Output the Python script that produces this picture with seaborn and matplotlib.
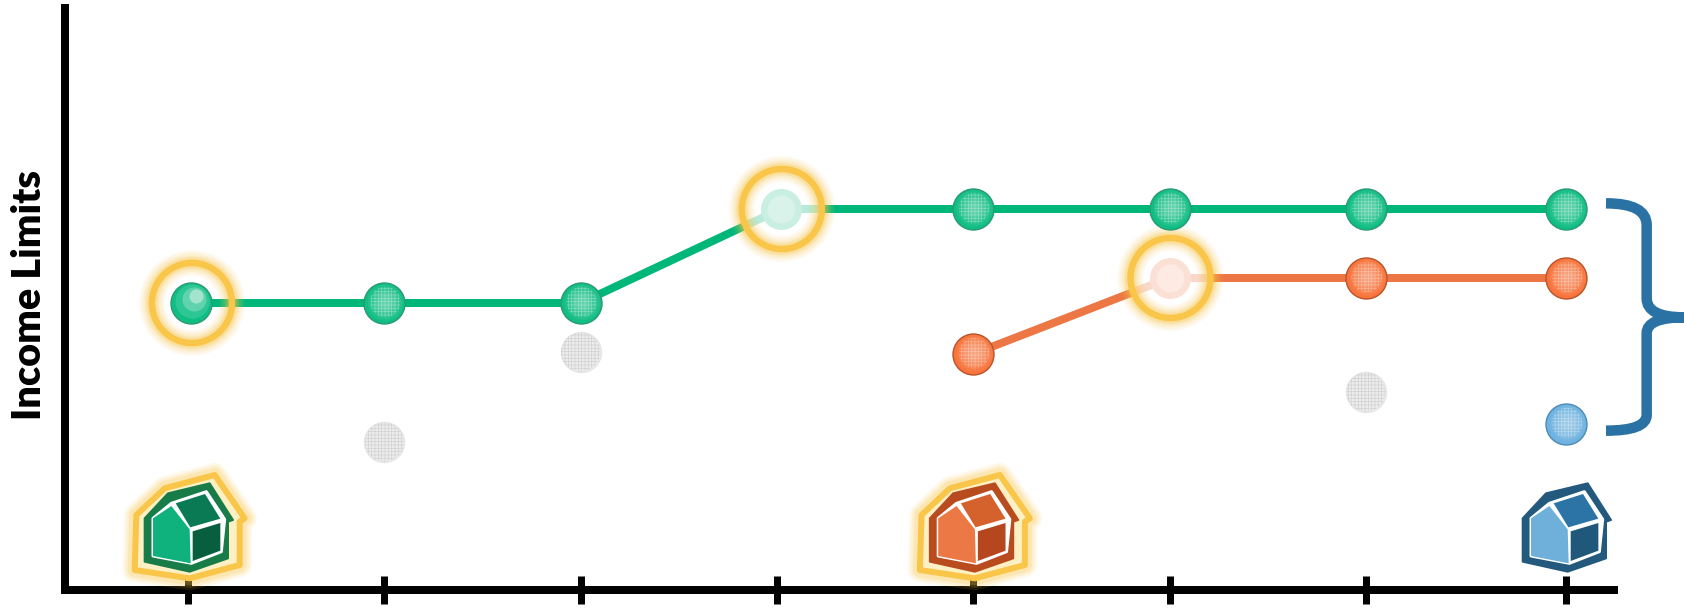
import numpy as np
import pandas as pd
import matplotlib
matplotlib.use("Agg")
import matplotlib.pyplot as plt
from matplotlib.patches import Polygon, PathPatch
from matplotlib.path import Path
import seaborn as sns

# ---------- data (arbitrary income units) ----------
steps = [0, 1, 2, 3, 4, 5, 6, 7.02]
green_steps = [0.015, 1, 2, 3.02, 4, 5, 6, 7.02]
green_values = [287, 287, 287, 381, 381, 381, 381, 381]
orange_steps = [4, 5, 6, 7.02]
orange_values = [236, 312, 312, 312]
gray_steps = [1, 2, 6]
gray_values = [148, 238, 198]
blue_steps = [7.02]
blue_values = [166]
highlights = [("green", 0.015, 287, False), ("green", 3.02, 381, True), ("orange", 5, 312, True)]
house_steps = [("green", 0, True), ("orange", 4, True), ("blue", 7.02, False)]
ylabel = "Income Limits"

# ---------- styles ----------
W, H = 1684, 609
PT = 72 / 100
GOLD = "#f9c64a"
colors = {"green": "#00b77a", "orange": "#ec7644", "gray": "#e6e6e6", "blue": "#6fb1dd"}
point_fill = {"green": "#10be84", "orange": "#f8743c", "gray": "#ececec", "blue": "#6db2e0"}
point_edge = {"green": "#2b9a72", "orange": "#b9552c", "gray": "#e6e6e6", "blue": "#4f8cb5"}
house_cols = {
    "green": dict(face="#0fb27c", roof="#0a7a55", side="#075f40", line="#177c48"),
    "orange": dict(face="#eb7845", roof="#d5622c", side="#b6461e", line="#b94c1f"),
    "blue": dict(face="#6fb0da", roof="#2b74a5", side="#20587c", line="#22597d"),
}

sns.set_theme(style="white")
plt.rcParams["hatch.linewidth"] = 0.5
plt.rcParams["font.family"] = ["Lato", "DejaVu Sans"]

fig = plt.figure(figsize=(W / 100, H / 100), dpi=100, facecolor="white")
left, right, top, bottom = 65, 1614, 8, 590
ax = fig.add_axes([left / W, (H - bottom) / H, (right - left) / W, (bottom - top) / H])
ax.set_facecolor("none")
x0, dx = 188.0, 196.3
ax.set_xlim((left - x0) / dx, (right - x0) / dx)
ax.set_ylim(0, bottom - top)

# ---------- lines ----------
lines = pd.concat([
    pd.DataFrame({"step": green_steps, "value": green_values, "series": "green"}),
    pd.DataFrame({"step": orange_steps, "value": orange_values, "series": "orange"}),
])
sns.lineplot(data=lines, x="step", y="value", hue="series", palette=colors, estimator=None,
             sort=False, linewidth=8 * PT, legend=False, ax=ax, zorder=2,
             solid_capstyle="butt")


def glossy(xs, ys, key, z=5, mesh=True):
    xs, ys = np.asarray(xs), np.asarray(ys)
    s = (41 * PT) ** 2
    sns.scatterplot(x=xs, y=ys, s=s, color=point_fill[key], edgecolor=point_edge[key],
                    linewidth=1.0, ax=ax, zorder=z, legend=False)
    for f in np.linspace(0.88, 0.25, 7):
        ax.scatter(xs + 1.0 / dx, ys + 1.0, s=s * f ** 2, color="white", alpha=0.06,
                   linewidths=0, zorder=z + 0.1)
    if mesh:
        ax.scatter(xs + 1.0 / dx, ys + 1.0, s=s * 0.55, marker="o", facecolor="none",
                   edgecolor=(1, 1, 1, 0.32), linewidths=0, hatch="+++++", zorder=z + 0.2)


# ---------- points ----------
sns.scatterplot(x=gray_steps, y=gray_values, s=(40 * PT) ** 2, color=point_fill["gray"],
                edgecolor=point_edge["gray"], linewidth=1, ax=ax, zorder=5, legend=False)
ax.scatter(gray_steps, gray_values, s=(39 * PT) ** 2, facecolor="none",
           edgecolor=(0.62, 0.62, 0.62, 0.32), linewidths=0, hatch="+++++", zorder=5.2)
glossy(blue_steps, blue_values, "blue")

hl_set = {(k, s) for k, s, _, _ in highlights}
g_plain = [(s, v) for s, v in zip(green_steps, green_values) if ("green", s) not in hl_set]
o_plain = [(s, v) for s, v in zip(orange_steps, orange_values) if ("orange", s) not in hl_set]
glossy(*zip(*g_plain), "green")
glossy(*zip(*o_plain), "orange")

# ---------- highlighted points: gold ring with a soft glow ----------
ring_s = (80 * PT) ** 2
shine = [(34, 1, 2, "#2cc795"), (24, 3, 4, "#60d3ad"), (14, 5, 7, "#a3e4cf")]
for key, st, val, faded in highlights:
    cx = st + 1.0 / dx
    ax.scatter([cx], [val], s=ring_s, color="white", alpha=0.72 if faded else 0.0,
               linewidths=0, zorder=3)
    for lw, a in zip([26, 22, 18, 14, 11], [0.07, 0.09, 0.12, 0.16, 0.22]):
        ax.scatter([cx], [val], s=ring_s, facecolor="none", edgecolor=GOLD, alpha=a,
                   linewidths=lw * PT, zorder=3.2)
    ax.scatter([cx], [val], s=ring_s, facecolor="none", edgecolor=GOLD,
               linewidths=6.5 * PT, zorder=3.4)
    if faded:
        fill = {"green": "#c9eee2", "orange": "#fbe0d5"}[key]
        inner = {"green": "#d9f3ea", "orange": "#fdeae2"}[key]
        ax.scatter([st], [val], s=(41 * PT) ** 2, color=fill, linewidths=0, zorder=5)
        ax.scatter([st], [val], s=(28 * PT) ** 2, color=inner, linewidths=0, zorder=5.1)
    else:
        ax.scatter([st], [val], s=(41 * PT) ** 2, color=point_fill[key],
                   edgecolor=point_edge[key], linewidths=1.0, zorder=5)
        for d, ox, oy, c in shine:
            ax.scatter([st + ox / dx], [val + oy], s=(d * PT) ** 2, color=c, linewidths=0,
                       zorder=5.2)

# ---------- axes ----------
for side in ("top", "right"):
    ax.spines[side].set_visible(False)
for side in ("left", "bottom"):
    ax.spines[side].set_visible(True)
    ax.spines[side].set_color("black")
    ax.spines[side].set_linewidth(8 * PT)
ax.set_xticks(steps)
ax.set_xticklabels([])
ax.set_yticks([])
ax.tick_params(axis="x", direction="inout", length=28 * PT, width=7 * PT, color="black",
               bottom=True)
ax.set_xlabel("")
ax.set_ylabel(ylabel, fontsize=28.5, fontweight="heavy", color="black", labelpad=0)
ax.yaxis.set_label_coords((48 - left) / (right - left), (bottom - 295) / (bottom - top))

# ---------- icons and brace, on a pixel overlay ----------
ov = fig.add_axes([0, 0, 1, 1], zorder=10)
ov.set_xlim(0, W)
ov.set_ylim(H, 0)
ov.axis("off")

halo = [(110, 195), (195, 115), (345, 75), (435, 205), (420, 215), (420, 345), (270, 385), (105, 360)]
outline = [(135, 205), (205, 130), (330, 100), (400, 210), (385, 215), (385, 325), (270, 365), (135, 335)]
face = [(160, 205), (215, 168), (270, 238), (273, 340), (160, 318)]


def house(tick_x, cols, glow):
    def P(pts):
        return [(tick_x + (zx - 265) / 3, 450 + zy / 3) for zx, zy in pts]
    if glow:
        for lw, a in zip([24, 19, 14], [0.12, 0.16, 0.22]):
            ov.add_patch(Polygon(P(halo), closed=True, fc="none", ec=GOLD, lw=lw * PT, alpha=a,
                                 joinstyle="round"))
        ov.add_patch(Polygon(P(halo), closed=True, fc="#fdf0c4", ec=GOLD, lw=6 * PT,
                             joinstyle="round"))
    ov.add_patch(Polygon(P(outline), closed=True, fc=cols["line"], ec=cols["line"], lw=2 * PT,
                         joinstyle="round"))
    ov.add_patch(Polygon(P([(160, 205), (215, 160), (320, 125), (375, 208), (365, 305),
                            (275, 340), (160, 318)]), closed=True, fc="white", ec="white",
                         lw=3 * PT, joinstyle="round"))
    ov.add_patch(Polygon(P(face), closed=True, fc=cols["face"], ec="none"))
    ov.add_patch(Polygon(P([(228, 160), (316, 132), (362, 206), (272, 232)]), closed=True,
                         fc=cols["roof"], ec="none"))
    ov.add_patch(Polygon(P([(279, 244), (362, 219), (362, 302), (279, 333)]), closed=True,
                         fc=cols["side"], ec="none"))


for key, st, glow in house_steps:
    disp = ax.transData.transform((st, 0))[0]
    house(disp, house_cols[key], glow)

brace = "#2a72a3"
bx = lambda z: 1480 + z / 3
by = lambda z: 170 + z / 3
verts = [(378, 100), (500, 100), (500, 165), (500, 385), (500, 442), (612, 442),
         (500, 442), (500, 490), (500, 735), (500, 782), (378, 782)]
codes = [Path.MOVETO, Path.CURVE3, Path.CURVE3, Path.LINETO, Path.CURVE3, Path.CURVE3,
         Path.CURVE3, Path.CURVE3, Path.LINETO, Path.CURVE3, Path.CURVE3]
ov.add_patch(PathPatch(Path([(bx(a), by(b)) for a, b in verts], codes), fc="none", ec=brace,
                       lw=10.5 * PT, capstyle="butt", joinstyle="miter", clip_on=True))

fig.savefig("out.png", dpi=100, facecolor="white")
